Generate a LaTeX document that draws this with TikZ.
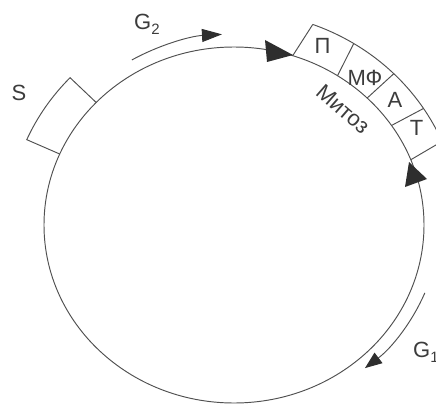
\documentclass[tikz,border=0pt]{standalone}
\usepackage{fontspec}
\setmainfont{Liberation Sans}
\usetikzlibrary{arrows.meta}
\definecolor{ink}{HTML}{505050}
\definecolor{txt}{HTML}{3C3C3C}
\definecolor{tri}{HTML}{2E2E2E}
\begin{document}
\begin{tikzpicture}[x=1pt,y=1pt,
  line/.style={draw=ink, line width=0.95pt},
  lab/.style={text=txt, font=\fontsize{22}{26}\selectfont, inner sep=0pt},
  headfill/.style={fill=tri}]
\useasboundingbox (0,0) rectangle (436,-404);
\clip (0,0) rectangle (436,-404);
\coordinate (C) at (234,-225);
% cell
\draw[line] (C) ellipse [x radius=190pt, y radius=178pt];
% S box
\coordinate (s1) at ([shift={(136.5:190pt and 178pt)}]C);
\coordinate (s2) at ([shift={(136.5:226pt and 214pt)}]C);
\coordinate (s3) at ([shift={(156.5:190pt and 178pt)}]C);
\draw[line] (s1) -- (s2) arc[start angle=136.5, end angle=156.5, x radius=226pt, y radius=214pt] -- (s3);
% mitosis band
\coordinate (m0) at ([shift={(69.6:226pt and 214pt)}]C);
\draw[line] (m0) arc[start angle=69.6, end angle=0, x radius=226pt, y radius=214pt];
\foreach \i/\a/\b in {1/72/69.6, 2/57/58, 3/45.5/45, 4/34/33, 5/21.5/23}{
  \coordinate (di\i) at ([shift={(\a:190pt and 178pt)}]C);
  \coordinate (do\i) at ([shift={(\b:226pt and 214pt)}]C);
  \draw[line] (di\i) -- (do\i);
}
% arrowheads on the cell
\coordinate (h1t) at (293,-55);
\coordinate (h1a) at (265,-40);
\coordinate (h1b) at (267,-62);
\fill[headfill] (h1t) -- (h1a) -- (h1b) -- cycle;
\coordinate (h2t) at (409,-162);
\coordinate (h2a) at (427,-179);
\coordinate (h2b) at (405,-187);
\fill[headfill] (h2t) -- (h2a) -- (h2b) -- cycle;
% G2 arrow
\coordinate (g2s) at ([shift={(120.2:203pt and 191pt)}]C);
\draw[line, -{Triangle[length=20pt,width=13pt,color=tri]}] (g2s)
  arc[start angle=120.2, end angle=93.4, x radius=203pt, y radius=191pt];
% G1 arrow
\coordinate (g1s) at ([shift={(-21.4:205pt and 186pt)}]C);
\draw[line, -{Triangle[length=17pt,width=13pt,color=tri]}] (g1s)
  arc[start angle=-21.4, end angle=-50.3, x radius=205pt, y radius=186pt];
% labels
\node[lab] (P) at (322.5,-46) {П};
\node[lab] (MF) at (365,-78) {МФ};
\node[lab] (A) at (395,-100) {А};
\node[lab] (T) at (416.5,-128) {Т};
\node[lab, rotate=-41] (mit) at (343,-109) {Митоз};
\node[lab] (S) at (19,-93) {S};
\node[lab, anchor=base west] (G2) at (134,-30) {G\raisebox{-5pt}{\fontsize{15}{15}\selectfont 2}};
\node[lab, anchor=base west] (G1) at (413,-357) {G\raisebox{-5pt}{\fontsize{15}{15}\selectfont 1}};
\end{tikzpicture}
\end{document}
